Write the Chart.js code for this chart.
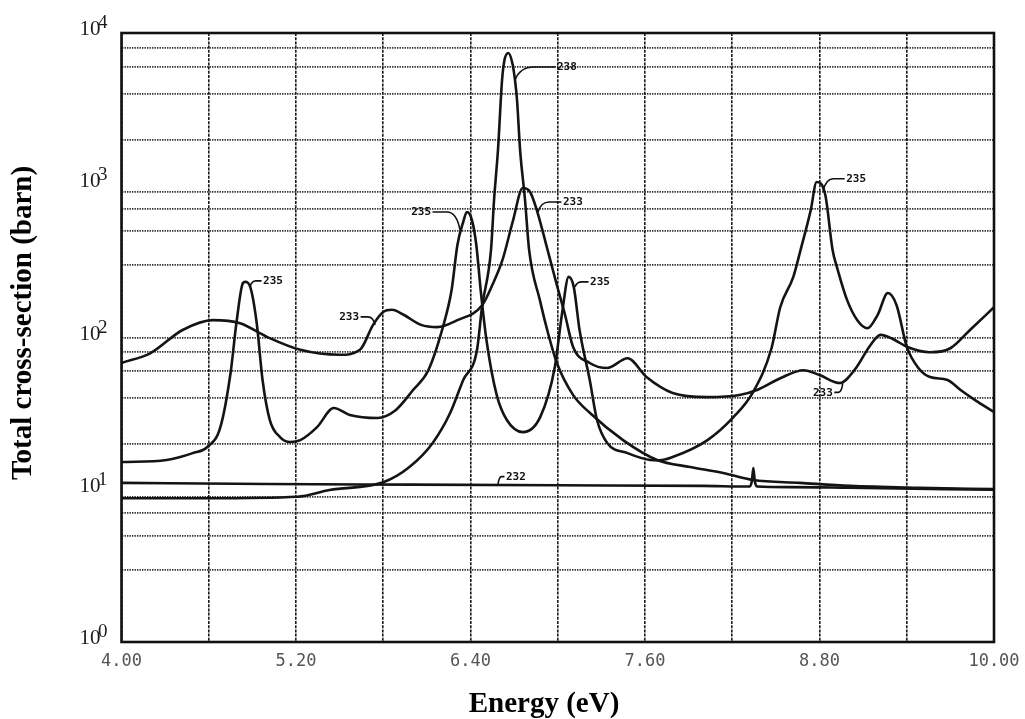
<!DOCTYPE html>
<html>
<head>
<meta charset="utf-8">
<title>Total cross-section vs energy</title>
<script src="https://cdn.jsdelivr.net/npm/chart.js@4.4.1/dist/chart.umd.min.js"></script>
<style>
  html, body { margin: 0; padding: 0; background: #fff; }
  #wrap { width: 1025px; height: 719px; }
</style>
</head>
<body>
<div id="wrap"><canvas id="c" width="1025" height="719"></canvas></div>
<script>
// Energy grid (eV) and the energies that carry a label
const energyGrid = [4.0, 4.6, 5.2, 5.8, 6.4, 7.0, 7.6, 8.2, 8.8, 9.4, 10.0];
const energyTickLabels = ['4.00', '5.20', '6.40', '7.60', '8.80', '10.00'];

// Cross-section grid (barn): 1..9 in every decade
const sigmaGrid = [1, 2, 3, 4, 5, 6, 7, 8, 9,
  10, 20, 30, 40, 50, 60, 70, 80, 90,
  100, 200, 300, 400, 500, 600, 700, 800, 900,
  1000, 2000, 3000, 4000, 5000, 6000, 7000, 8000, 9000, 10000];
const sigmaDecades = [1, 10, 100, 1000, 10000];
const sigmaExponents = ['0', '1', '2', '3', '4'];

// U-235
const u235Energy = [4.00, 4.31, 4.49, 4.59, 4.68, 4.75, 4.79, 4.835, 4.85, 4.885, 4.93, 4.97, 5.02, 5.09, 5.16, 5.23, 5.345, 5.46, 5.57, 5.76, 5.88, 6.005, 6.11, 6.21, 6.27, 6.31, 6.35, 6.375, 6.41, 6.44, 6.47, 6.51, 6.58, 6.65, 6.76, 6.88, 6.98, 7.03, 7.075, 7.11, 7.15, 7.22, 7.27, 7.34, 7.48, 7.635, 7.70, 7.79, 8.03, 8.21, 8.34, 8.47, 8.53, 8.62, 8.67, 8.74, 8.78, 8.84, 8.89, 8.92, 8.99, 9.06, 9.13, 9.20, 9.27, 9.33, 9.40, 9.48, 9.56, 9.68, 9.77, 9.87, 10.0];
const u235Sigma = [15.2, 15.7, 17.4, 19.1, 25.8, 58.5, 124, 228, 232, 215, 124, 52.6, 28.7, 22.2, 20.6, 21.2, 25.8, 34.4, 31, 29.6, 33, 45.2, 61, 117, 205, 405, 574, 667, 590, 405, 205, 96, 42, 28.7, 23.9, 30.1, 64, 145, 250, 215, 112, 52.6, 28.7, 20.3, 17.4, 15.7, 15.6, 16.4, 21.2, 30.1, 43.2, 85, 158, 250, 376, 688, 1050, 863, 376, 290, 176, 130, 115, 141, 196, 163, 87, 63, 55, 52.6, 45.2, 38.8, 32.4];

// U-233
const u233Energy = [4.00, 4.20, 4.42, 4.63, 4.815, 5.00, 5.23, 5.50, 5.64, 5.73, 5.80, 5.86, 5.94, 6.06, 6.17, 6.31, 6.48, 6.55, 6.62, 6.69, 6.76, 6.81, 6.86, 6.93, 6.99, 7.05, 7.105, 7.22, 7.34, 7.48, 7.61, 7.79, 8.03, 8.25, 8.37, 8.53, 8.69, 8.80, 8.94, 9.04, 9.15, 9.22, 9.32, 9.40, 9.56, 9.70, 9.835, 10.0];
const u233Sigma = [68, 79, 112, 130, 124, 101, 83, 77, 83, 121, 147, 152, 141, 121, 117, 130, 163, 221, 323, 574, 959, 903, 667, 376, 228, 141, 87, 68, 63, 73, 55, 43.2, 40.6, 41.9, 45.2, 54, 61, 56.7, 50.2, 61, 89, 104, 96, 87, 80, 85, 112, 158];

// U-238
const u238Energy = [4.00, 4.60, 5.21, 5.43, 5.80, 5.98, 6.14, 6.26, 6.35, 6.445, 6.479, 6.541, 6.562, 6.589, 6.617, 6.633, 6.660, 6.686, 6.706, 6.720, 6.741, 6.775, 6.803, 6.877, 6.933, 6.994, 7.105, 7.222, 7.449, 7.683, 7.910, 8.137, 8.343, 8.666, 9.010, 9.49, 10.0];
const u238Sigma = [8.8, 8.8, 9.0, 9.96, 11.2, 14.1, 20.3, 31.9, 52.6, 83, 158, 376, 800, 1706, 4910, 6600, 7390, 6450, 4910, 3630, 1706, 800, 376, 176, 107, 68, 42, 31.9, 21.2, 15.7, 14.1, 12.9, 11.6, 11.1, 10.6, 10.3, 10.1];

// U-232
const u232Energy = [4.00, 5.00, 6.00, 7.00, 8.00, 8.32, 8.335, 8.345, 8.355, 8.37, 8.60, 9.00, 10.0];
const u232Sigma = [11.1, 10.9, 10.8, 10.7, 10.6, 10.5, 11.4, 13.9, 11.4, 10.5, 10.4, 10.3, 10.0];

// Curve labels: text and the point on the curve the leader starts from
const curveLabelText = ['238', '233', '235', '235', '235', '233', '235', '232', '233'];
const curveLabelEnergy = [6.706, 6.864, 6.328, 8.825, 4.884, 5.744, 7.119, 6.589, 8.96];
const curveLabelSigma = [4910, 667, 508, 920, 215, 121, 215, 10.8, 50];
// leader geometry: [dx to text edge, dy to text middle, side]
const labelLayout = [
  [42, -13, 'right'], [25, -10, 'right'], [-29, -18, 'left'],
  [23, -12, 'right'], [13, -6, 'right'], [-16, -8, 'left'],
  [15, -5, 'right'], [8, -8, 'right'], [-10, 9, 'left']
];

const toPoints = (xs, ys) => xs.map((e, i) => ({ x: e, y: ys[i] }));

const lineStyle = {
  borderColor: '#141414',
  borderWidth: 2.6,
  pointRadius: 0,
  fill: false,
  cubicInterpolationMode: 'monotone'
};

const decorations = {
  id: 'decorations',
  afterDatasetsDraw(chart) {
    const { ctx, chartArea: a, scales: { x, y } } = chart;
    ctx.save();

    // plot frame
    ctx.strokeStyle = '#111';
    ctx.lineWidth = 2.6;
    ctx.setLineDash([]);
    ctx.strokeRect(a.left, a.top, a.right - a.left, a.bottom - a.top);

    // curve labels with leaders
    ctx.font = 'bold 11px "DejaVu Sans Mono"';
    ctx.fillStyle = '#111';
    ctx.strokeStyle = '#111';
    ctx.lineWidth = 1.6;
    curveLabelText.forEach((t, i) => {
      const ax = x.getPixelForValue(curveLabelEnergy[i]);
      const ay = y.getPixelForValue(curveLabelSigma[i]);
      const [dx, dy, side] = labelLayout[i];
      const s = side === 'left' ? -1 : 1;
      const ty = ay + dy;
      const reach = Math.abs(dx);
      ctx.beginPath();
      ctx.moveTo(ax, ay);
      ctx.quadraticCurveTo(ax + s * reach * 0.12, ty, ax + s * reach * 0.45, ty);
      ctx.lineTo(ax + dx - s * 1.5, ty);
      ctx.stroke();
      ctx.textAlign = side === 'left' ? 'right' : 'left';
      ctx.textBaseline = 'middle';
      ctx.fillText(t, ax + dx, ty + 0.5);
    });
    ctx.restore();
  },
  afterDraw(chart) {
    const { ctx, chartArea: a, scales: { y } } = chart;
    ctx.save();
    ctx.fillStyle = '#1a1a1a';
    // decade labels 10^n
    sigmaDecades.forEach((v, i) => {
      const py = y.getPixelForValue(v);
      ctx.textBaseline = 'alphabetic';
      ctx.font = '21px "Liberation Serif"';
      ctx.textAlign = 'right';
      ctx.fillText('10', a.left - 21, py + 2);
      ctx.font = '19px "Liberation Serif"';
      ctx.textAlign = 'left';
      ctx.fillText(sigmaExponents[i], a.left - 23.5, py - 5);
    });

    // axis titles
    ctx.fillStyle = '#000';
    ctx.font = 'bold 29px "Liberation Serif"';
    ctx.textAlign = 'center';
    ctx.textBaseline = 'alphabetic';
    ctx.fillText('Energy (eV)', 544, 712);
    ctx.translate(31, 323);
    ctx.rotate(-Math.PI / 2);
    ctx.fillText('Total cross-section (barn)', 0, 0);
    ctx.restore();
  }
};

new Chart(document.getElementById('c'), {
  type: 'line',
  data: {
    datasets: [
      { label: '235', data: toPoints(u235Energy, u235Sigma), ...lineStyle },
      { label: '233', data: toPoints(u233Energy, u233Sigma), ...lineStyle },
      { label: '238', data: toPoints(u238Energy, u238Sigma), ...lineStyle },
      { label: '232', data: toPoints(u232Energy, u232Sigma), ...lineStyle }
    ]
  },
  options: {
    responsive: false,
    animation: false,
    devicePixelRatio: 1,
    layout: { padding: { top: 33, right: 31, left: 0, bottom: 0 } },
    plugins: { legend: { display: false }, tooltip: { enabled: false } },
    scales: {
      x: {
        type: 'linear',
        min: 4,
        max: 10,
        afterBuildTicks: (s) => { s.ticks = energyGrid.map(v => ({ value: v })); },
        afterFit: (s) => { s.height = 77; s.paddingLeft = 0; s.paddingRight = 0; },
        grid: { color: '#1a1a1a', lineWidth: 1.6, drawTicks: false, borderDash: [3, 1.2] },
        border: { display: false, dash: [3, 1.2] },
        ticks: {
          autoSkip: false,
          maxRotation: 0,
          padding: 9,
          color: '#555',
          font: { family: '"DejaVu Sans Mono"', size: 17 },
          callback: (v) => {
            const s = Number(v).toFixed(2);
            return energyTickLabels.includes(s) ? s : '';
          }
        }
      },
      y: {
        type: 'logarithmic',
        min: 1,
        max: 10000,
        afterBuildTicks: (s) => { s.ticks = sigmaGrid.map(v => ({ value: v })); },
        afterFit: (s) => { s.width = 121.5; s.paddingTop = 0; s.paddingBottom = 0; },
        grid: { color: 'rgba(25,25,25,0.9)', lineWidth: 1.7, drawTicks: false, borderDash: [1.4, 1.1] },
        border: { display: false, dash: [1.4, 1.1] },
        ticks: { callback: () => '' }
      }
    }
  },
  plugins: [decorations]
});
</script>
</body>
</html>
